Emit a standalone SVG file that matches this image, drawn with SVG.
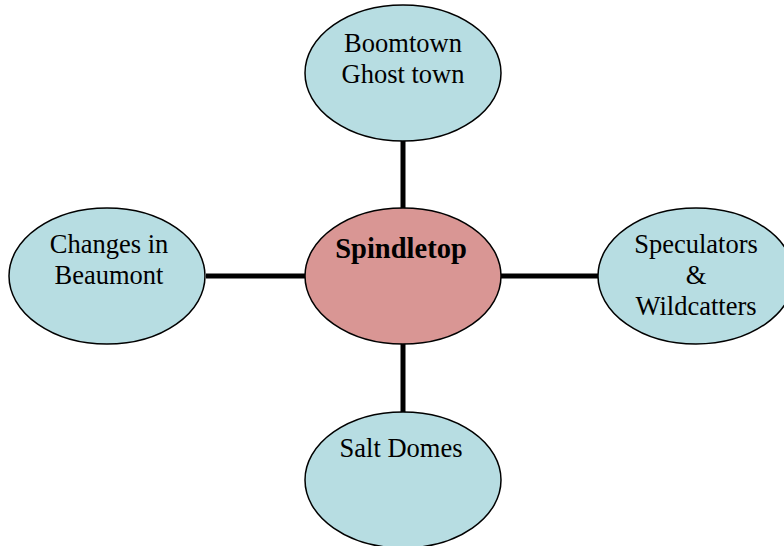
<svg xmlns="http://www.w3.org/2000/svg" width="784" height="546" viewBox="0 0 784 546">
  <style>
    .bg { fill: #ffffff; }
    .leaf { fill: #b7dde2; stroke: #000000; stroke-width: 1.5; }
    .hub { fill: #d99694; stroke: #000000; stroke-width: 1.5; }
    .link { stroke: #000000; stroke-width: 5; fill: none; }
    .lbl { font-family: "Liberation Serif", "Times New Roman", serif; font-size: 26.5px; fill: #000000; text-anchor: middle; }
    .hubtxt { font-weight: bold; font-size: 28.5px; }
  </style>
  <rect class="bg" x="0" y="0" width="784" height="546"/>

  <!-- spokes from the hub to each topic -->
  <g id="connectors">
    <line class="link" x1="403" y1="141" x2="403" y2="209"/>
    <line class="link" x1="206" y1="276" x2="305" y2="276"/>
    <line class="link" x1="501" y1="276" x2="598" y2="276"/>
    <line class="link" x1="403" y1="343" x2="403" y2="413"/>
  </g>

  <g id="boomtown">
    <ellipse class="leaf" cx="403" cy="73" rx="98" ry="68"/>
    <text class="lbl" x="403" y="52">Boomtown</text>
    <text class="lbl" x="403" y="83">Ghost town</text>
  </g>

  <g id="spindletop">
    <ellipse class="hub" cx="403" cy="276" rx="98" ry="68"/>
    <text class="lbl hubtxt" x="401" y="258">Spindletop</text>
  </g>

  <g id="beaumont">
    <ellipse class="leaf" cx="107" cy="276" rx="98" ry="68"/>
    <text class="lbl" x="109" y="253">Changes in</text>
    <text class="lbl" x="109" y="284">Beaumont</text>
  </g>

  <g id="speculators">
    <ellipse class="leaf" cx="696" cy="276" rx="98" ry="68"/>
    <text class="lbl" x="696" y="253">Speculators</text>
    <text class="lbl" x="696" y="284">&amp;</text>
    <text class="lbl" x="696" y="315">Wildcatters</text>
  </g>

  <g id="salt-domes">
    <ellipse class="leaf" cx="403" cy="480" rx="98" ry="68"/>
    <text class="lbl" x="401" y="457">Salt Domes</text>
  </g>
</svg>
